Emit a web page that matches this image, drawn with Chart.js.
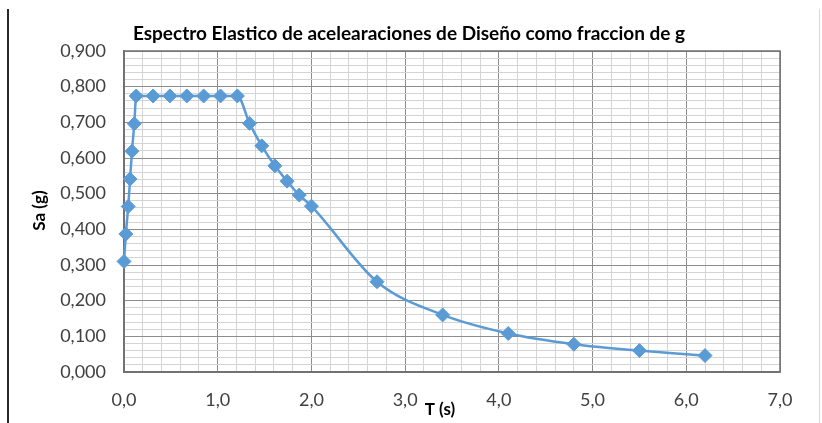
<!DOCTYPE html>
<html>
<head>
<meta charset="utf-8">
<script src="https://cdn.jsdelivr.net/npm/chart.js@4.4.0/dist/chart.umd.min.js"></script>
<style>
  html, body { margin: 0; padding: 0; background: #fff; }
  #wrap { position: relative; width: 822px; height: 423px; }
  #lineL { position: absolute; left: 7px; top: 9px; width: 2px; height: 414px; background: #2a2a2a; }
  #lineR { position: absolute; left: 819px; top: 9px; width: 1px; height: 414px; background: #d8d8d8; }
  canvas { position: absolute; left: 0; top: 0; }
</style>
</head>
<body>
<div id="wrap">
  <canvas id="c" width="822" height="423"></canvas>
  <div id="lineL"></div>
  <div id="lineR"></div>
</div>
<script>
// Data
const periodT = [0.00, 0.02, 0.045, 0.065, 0.085, 0.11, 0.13,
                 0.31, 0.49, 0.67, 0.85, 1.03, 1.21,
                 1.34, 1.47, 1.61, 1.74, 1.87, 2.00,
                 2.70, 3.40, 4.10, 4.80, 5.50, 6.20];
const saValues = [0.310, 0.387, 0.464, 0.541, 0.619, 0.696, 0.774,
                  0.774, 0.774, 0.774, 0.774, 0.774, 0.774,
                  0.697, 0.634, 0.578, 0.535, 0.496, 0.465,
                  0.253, 0.160, 0.108, 0.078, 0.060, 0.046];
const xMajorTicks = ["0,0", "1,0", "2,0", "3,0", "4,0", "5,0", "6,0", "7,0"];
const yMajorTicks = ["0,000", "0,100", "0,200", "0,300", "0,400", "0,500", "0,600", "0,700", "0,800", "0,900"];
const chartTitle = "Espectro Elastico de acelearaciones de Diseño como fraccion de g";
const xTitle = "T (s)";
const yTitle = "Sa (g)";

const points = periodT.map((t, i) => ({ x: t, y: saValues[i] }));
const FONT = "Lato, 'Open Sans', sans-serif";
const BLUE = "#5B9BD5";

function isMult(v, step) {
  const r = v / step;
  return Math.abs(r - Math.round(r)) < 1e-6;
}

const textPlugin = {
  id: 'texts',
  afterDraw(chart) {
    const ctx = chart.ctx, a = chart.chartArea;
    ctx.save();
    ctx.fillStyle = '#000';
    ctx.textAlign = 'center';
    ctx.textBaseline = 'middle';
    ctx.font = "bold 19px " + FONT;
    ctx.fillText(chartTitle, chart.width / 2 - 2, a.top - 17);
    ctx.font = "bold 17px " + FONT;
    ctx.fillText(xTitle, (a.left + a.right) / 2 - 12, a.bottom + 38);
    ctx.translate(40, (a.top + a.bottom) / 2 - 1);
    ctx.rotate(-Math.PI / 2);
    ctx.fillText(yTitle, 0, 0);
    ctx.restore();
  }
};

new Chart(document.getElementById('c'), {
  type: 'scatter',
  data: {
    datasets: [{
      data: points,
      showLine: true,
      borderColor: BLUE,
      backgroundColor: BLUE,
      borderWidth: 2.5,
      pointStyle: 'rectRot',
      pointRadius: 7,
      pointBorderWidth: 1,
      pointBorderColor: BLUE,
      pointBackgroundColor: BLUE,
      cubicInterpolationMode: 'monotone',
      clip: false
    }]
  },
  options: {
    responsive: false,
    animation: false,
    devicePixelRatio: 1,
    layout: { padding: { left: 0, right: 42, top: 51, bottom: 0 } },
    plugins: {
      legend: { display: false },
      tooltip: { enabled: false },
      title: { display: false }
    },
    scales: {
      x: {
        type: 'linear',
        min: 0, max: 7,
        afterFit(s) { s.height = 51; },
        ticks: {
          stepSize: 0.2,
          autoSkip: false,
          maxRotation: 0,
          padding: 17,
          color: '#404040',
          font: { family: FONT, size: 18 },
          callback(v) { return isMult(v, 1) ? xMajorTicks[Math.round(v)] : ''; }
        },
        grid: {
          drawTicks: false,
          color(c) { return c.tick && isMult(c.tick.value, 1) ? '#8c8c8c' : '#d4d4d4'; },
          lineWidth: 1
        },
        border: { color: '#707070', width: 1.5 }
      },
      y: {
        type: 'linear',
        min: 0, max: 0.9,
        afterFit(s) { s.width = 124; },
        ticks: {
          stepSize: 0.02,
          autoSkip: false,
          padding: 18,
          color: '#404040',
          font: { family: FONT, size: 18 },
          callback(v) { return isMult(v, 0.1) ? yMajorTicks[Math.round(v * 10)] : ''; }
        },
        grid: {
          drawTicks: false,
          color(c) { return c.tick && isMult(c.tick.value, 0.1) ? '#8c8c8c' : '#d4d4d4'; },
          lineWidth: 1
        },
        border: { color: '#707070', width: 1.5 }
      }
    }
  },
  plugins: [textPlugin, {
    id: 'frame',
    beforeDatasetsDraw(chart) {
      const ctx = chart.ctx, a = chart.chartArea;
      ctx.save();
      ctx.strokeStyle = '#707070';
      ctx.lineWidth = 1.5;
      ctx.strokeRect(a.left, a.top, a.right - a.left, a.bottom - a.top);
      ctx.restore();
    }
  }]
});
</script>
</body>
</html>
